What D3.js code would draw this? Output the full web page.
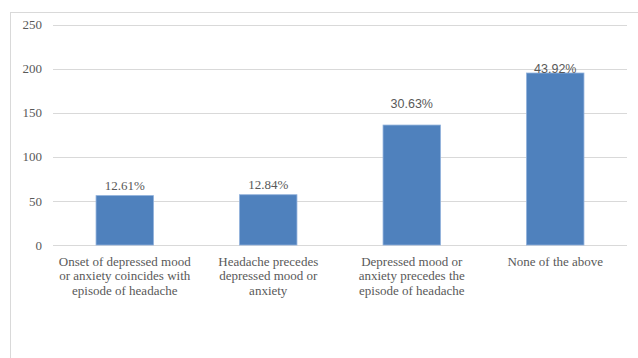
<!DOCTYPE html>
<html>
<head>
<meta charset="utf-8">
<script src="https://cdn.jsdelivr.net/npm/d3@7"></script>
<style>
  html, body { margin: 0; padding: 0; background: #fff; }
  svg { display: block; }
</style>
</head>
<body>
<svg id="chart" width="638" height="358"></svg>
<script>
// Timing of mood/anxiety symptoms relative to headache episodes (counts, n = 444)
const categories = [
  ["Onset of depressed mood", "or anxiety coincides with", "episode of headache"],
  ["Headache precedes", "depressed mood or", "anxiety"],
  ["Depressed mood or", "anxiety precedes the", "episode of headache"],
  ["None of the above"]
];
const counts = [56, 57, 136, 195];
const percentLabels = ["12.61%", "12.84%", "30.63%", "43.92%"];
const yTicks = [0, 50, 100, 150, 200, 250];

const svg = d3.select("#chart");
const W = 638, H = 358;
const plot = { left: 53, right: 627, top: 24.5, bottom: 245 };

const serif = "'Liberation Serif', 'DejaVu Serif', serif";
const sans = "'Liberation Sans', Arial, sans-serif";
const textColor = "#595959";

// chart area frame (runs off the right and bottom edges)
svg.append("rect")
  .attr("x", 10.5).attr("y", 12.5)
  .attr("width", W).attr("height", H)
  .attr("fill", "none").attr("stroke", "#d9d9d9").attr("stroke-width", 1);

const x = d3.scaleBand()
  .domain(d3.range(categories.length))
  .range([plot.left, plot.right])
  .padding(0);

const y = d3.scaleLinear().domain([0, 250]).range([plot.bottom, plot.top]);

// horizontal gridlines
svg.append("g")
  .selectAll("line")
  .data(yTicks)
  .join("line")
  .attr("x1", plot.left).attr("x2", plot.right)
  .attr("y1", d => Math.round(y(d)) + 0.5).attr("y2", d => Math.round(y(d)) + 0.5)
  .attr("stroke", "#d9d9d9").attr("stroke-width", 1.2);

// y axis labels
const yAxis = d3.axisLeft(y).tickValues(yTicks).tickSize(0).tickPadding(0);
const gy = svg.append("g").attr("transform", `translate(42,0)`).call(yAxis);
gy.attr("font-family", serif).attr("font-size", 13);
gy.select(".domain").remove();
gy.selectAll("text")
  .attr("font-family", serif).attr("font-size", 13)
  .attr("fill", textColor);

// bars
const barW = x.bandwidth() * 0.4;
svg.append("g")
  .selectAll("rect")
  .data(counts)
  .join("rect")
  .attr("x", (d, i) => x(i) + (x.bandwidth() - barW) / 2)
  .attr("y", d => y(d))
  .attr("width", barW)
  .attr("height", d => y(0) - y(d))
  .attr("fill", "#4f81bd")
  .attr("stroke", "#8fb0db").attr("stroke-width", 0.8);

// data labels (percent of total), sitting above each bar
const labelGap = [5, 5, 16, -1];
const labelFont = [serif, serif, sans, sans];
const labelSize = [13, 13, 12.5, 12.5];
svg.append("g")
  .selectAll("text")
  .data(counts)
  .join("text")
  .attr("x", (d, i) => x(i) + x.bandwidth() / 2)
  .attr("y", (d, i) => y(d) - labelGap[i] - 1)
  .attr("text-anchor", "middle")
  .attr("font-family", (d, i) => labelFont[i])
  .attr("font-size", (d, i) => labelSize[i])
  .attr("fill", textColor)
  .text((d, i) => percentLabels[i]);

// category labels, wrapped onto lines
const cat = svg.append("g")
  .selectAll("text")
  .data(categories)
  .join("text")
  .attr("x", (d, i) => x(i) + x.bandwidth() / 2)
  .attr("y", 265.5)
  .attr("text-anchor", "middle")
  .attr("font-family", serif).attr("font-size", 13)
  .attr("fill", textColor);
cat.selectAll("tspan")
  .data(d => d)
  .join("tspan")
  .attr("x", function () { return d3.select(this.parentNode).attr("x"); })
  .attr("dy", (d, i) => i === 0 ? 0 : 14.5)
  .text(d => d);
</script>
</body>
</html>
